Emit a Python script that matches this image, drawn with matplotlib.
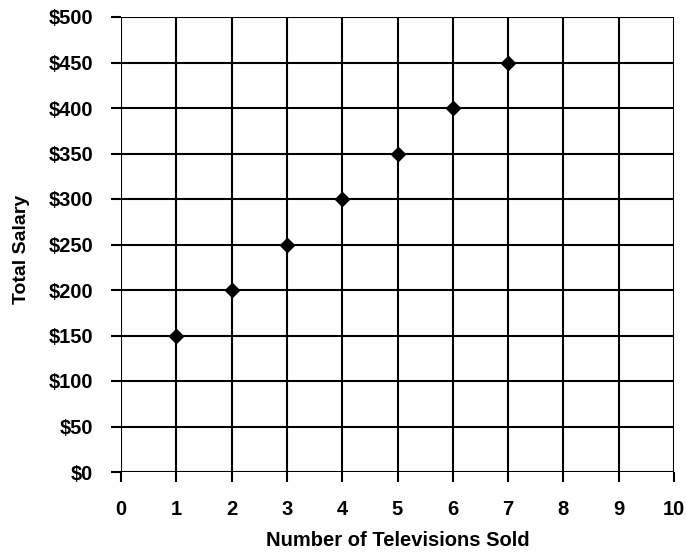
import numpy as np
import matplotlib
matplotlib.use("Agg")
import matplotlib.pyplot as plt
from matplotlib.ticker import FuncFormatter

plt.rcParams['font.family'] = ['Liberation Sans', 'DejaVu Sans']
plt.rcParams['font.weight'] = 'bold'

# televisions sold vs total salary
tvs_sold = [1, 2, 3, 4, 5, 6, 7]
salary = [150, 200, 250, 300, 350, 400, 450]

x_ticks = list(range(0, 11))
y_ticks = list(range(0, 501, 50))

fig = plt.figure(figsize=(6.86, 5.52), dpi=100)
ax = fig.add_axes([121/686, 1 - 472/552, (674 - 121)/686, (472 - 17)/552])

ax.plot(tvs_sold, salary, linestyle='none', marker='D', markersize=7.5, color='black')

ax.set_xlim(0, 10)
ax.set_ylim(0, 500)
ax.set_xticks(x_ticks)
ax.set_yticks(y_ticks)
ax.yaxis.set_major_formatter(FuncFormatter(lambda v, p: "$%d" % v))
ax.grid(True, color='black', linewidth=1.5)
ax.set_axisbelow(True)
for s in ax.spines.values():
    s.set_visible(False)
ax.tick_params(axis='both', length=7, width=1.5, color='black', labelsize=14.5)
ax.tick_params(axis='x', pad=13)
ax.tick_params(axis='y', pad=13)

ax.set_xlabel("Number of Televisions Sold", fontsize=14.5, fontweight='bold')
ax.set_ylabel("Total Salary", fontsize=14, fontweight='bold')
ax.xaxis.set_label_coords(0.5, -0.13)
ax.yaxis.set_label_coords(-0.165, 0.49)

fig.savefig("out.png", dpi=100)
